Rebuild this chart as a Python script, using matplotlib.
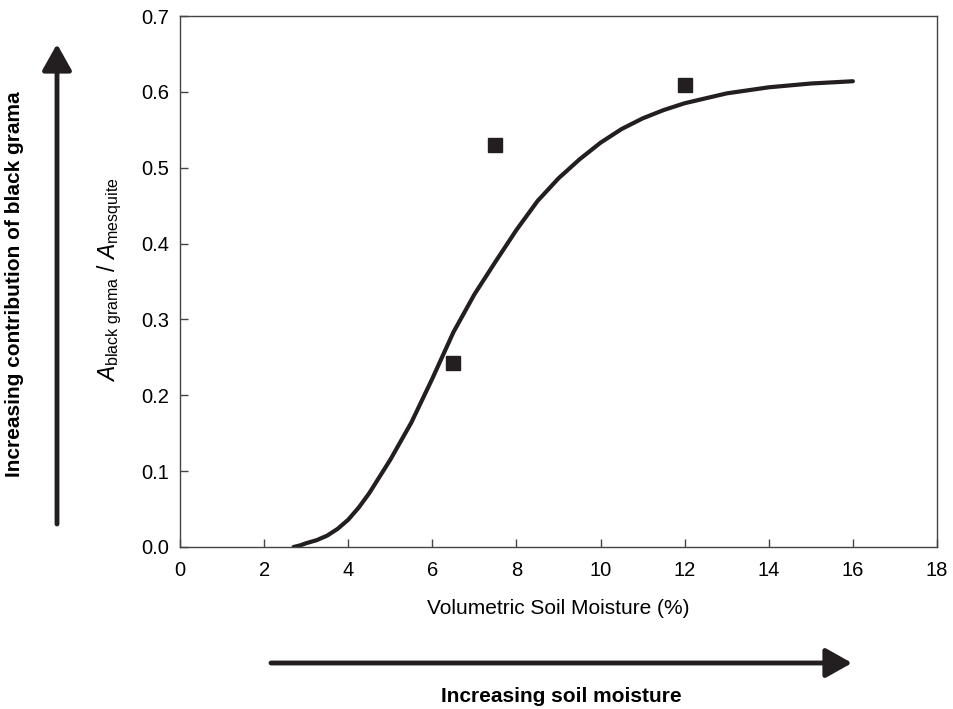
import matplotlib
matplotlib.use("Agg")
import matplotlib.pyplot as plt

# curve
moisture = [2.7, 2.85, 3.0, 3.25, 3.5, 3.75, 4.0, 4.25, 4.5, 5.0, 5.5, 6.0, 6.5, 7.0, 7.5, 8.0,
            8.5, 9.0, 9.5, 10.0, 10.5, 11.0, 11.5, 12.0, 13.0, 14.0, 15.0, 16.0]
ratio = [0.0, 0.002, 0.005, 0.009, 0.015, 0.024, 0.036, 0.052, 0.071, 0.115, 0.164, 0.222,
         0.283, 0.333, 0.376, 0.418, 0.456, 0.486, 0.511, 0.533, 0.551, 0.565, 0.576, 0.585,
         0.598, 0.606, 0.611, 0.614]

# measured points
pt_x = [6.5, 7.5, 12.0]
pt_y = [0.243, 0.53, 0.609]

xticks = [0, 2, 4, 6, 8, 10, 12, 14, 16, 18]
yticks = [0.0, 0.1, 0.2, 0.3, 0.4, 0.5, 0.6, 0.7]

plt.rcParams['font.family'] = ['Liberation Sans Narrow', 'Liberation Sans', 'DejaVu Sans']
plt.rcParams['mathtext.fontset'] = 'custom'
plt.rcParams['mathtext.rm'] = 'Liberation Sans'
plt.rcParams['mathtext.it'] = 'Liberation Sans:italic'

ink = '#231f20'
W, H = 954, 709

fig = plt.figure(figsize=(9.54, 7.09), dpi=100)
ax = fig.add_axes([180 / W, 1 - 547 / H, (937 - 180) / W, (547 - 16) / H])

ax.plot(moisture, ratio, color=ink, lw=3, solid_capstyle='round', solid_joinstyle='round')
ax.plot(pt_x, pt_y, 's', color=ink, markersize=10.5, zorder=3)

ax.set_xlim(0, 18)
ax.set_ylim(0, 0.7)
ax.set_xticks(xticks)
ax.set_yticks(yticks)
ax.set_yticklabels([f"{v:.1f}" for v in yticks])
ax.tick_params(direction='in', length=6, width=1, color='#444444', labelsize=14.5)
ax.tick_params(axis='y', pad=8)
ax.tick_params(axis='x', pad=10)
for s in ax.spines.values():
    s.set_color('#444444')
    s.set_linewidth(1)

fig.text(558 / W, 1 - 608 / H, "Volumetric Soil Moisture (%)", ha='center', va='center', fontsize=15)
fig.text(110 / W, 1 - 280 / H, r"$\mathit{A}_{\mathrm{black\ grama}}$ / $\mathit{A}_{\mathrm{mesquite}}$",
         ha='center', va='center', rotation=90, fontsize=16.5)

# direction arrows
arr = dict(arrowstyle='-|>,head_length=0.8,head_width=0.45', lw=3.5, color=ink,
           mutation_scale=20, shrinkA=0, shrinkB=0)
ax.annotate('', xy=(852 / W, 1 - 663 / H), xytext=(271 / W, 1 - 663 / H),
            xycoords='figure fraction', textcoords='figure fraction', arrowprops=arr)
ax.annotate('', xy=(57 / W, 1 - 44 / H), xytext=(57 / W, 1 - 524 / H),
            xycoords='figure fraction', textcoords='figure fraction', arrowprops=arr)

fig.text(561 / W, 1 - 697 / H, "Increasing soil moisture", ha='center', va='center',
         fontsize=15, fontweight='bold')
fig.text(15 / W, 1 - 284 / H, "Increasing contribution of black grama", ha='center', va='center',
         rotation=90, fontsize=15, fontweight='bold')

fig.savefig("out.png", dpi=100)
